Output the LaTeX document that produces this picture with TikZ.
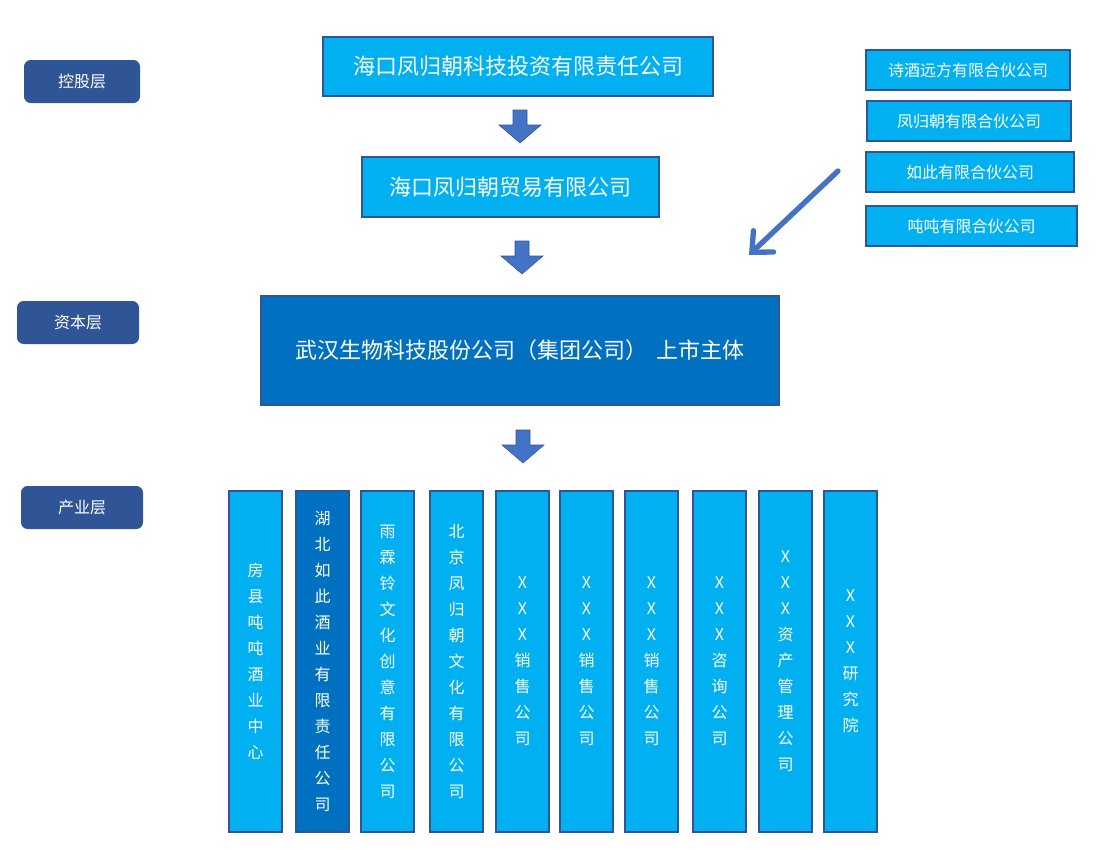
\documentclass[tikz,border=0pt]{standalone}
\usepackage{fontspec}
\setmainfont{Noto Sans CJK SC}
\usetikzlibrary{arrows.meta}
\definecolor{lb}{HTML}{00B0F0}
\definecolor{db}{HTML}{0070C0}
\definecolor{bd}{HTML}{2F5597}
\definecolor{ar}{HTML}{4472C4}
\definecolor{lab}{HTML}{2F5597}
\tikzset{
 box/.style={draw=bd,line width=1pt,fill=lb,text=white,inner sep=0pt},
 layer/.style={fill=lab,rounded corners=5pt,text=white,font=\fontsize{12pt}{14pt}\selectfont,inner sep=0pt},
 vbox/.style={box,font=\fontsize{12pt}{19.5pt}\selectfont,align=center},
}
\newcommand{\downarr}[3]{% x, ytop, ybottom
 \fill[ar,draw=bd,line width=0.4pt] (#1-7,#2) -- (#1+7,#2) -- (#1+7,#2+15) -- (#1+21,#2+15) -- (#1,#3) -- (#1-21,#2+15) -- (#1-7,#2+15) -- cycle;}
\begin{document}
\begin{tikzpicture}[x=0.75pt,y=-0.75pt]
\useasboundingbox (0,0) rectangle (1097,850);
\node[layer,minimum width=116*0.75pt,minimum height=43*0.75pt] (l1) at (82,81.5) {控股层};
\node[layer,minimum width=122*0.75pt,minimum height=43*0.75pt] (l2) at (78,322.5) {资本层};
\node[layer,minimum width=122*0.75pt,minimum height=43*0.75pt] (l3) at (82,507.5) {产业层};
\node[box,minimum width=390*0.75pt,minimum height=59*0.75pt,font=\fontsize{16.5pt}{18pt}\selectfont] (a) at (518,66.5) {海口凤归朝科技投资有限责任公司};
\node[box,minimum width=297*0.75pt,minimum height=60*0.75pt,font=\fontsize{16.5pt}{18pt}\selectfont] (b) at (510.5,187) {海口凤归朝贸易有限公司};
\node[box,fill=db,minimum width=518*0.75pt,minimum height=109*0.75pt,font=\fontsize{16.5pt}{18pt}\selectfont] (c) at (520,350.5) {武汉生物科技股份公司（集团公司）\ \ 上市主体};
\downarr{520}{110}{143}
\downarr{522}{241}{274}
\downarr{523}{430}{463}
\foreach \n/\x/\y/\w/\t in {r1/968/70/204/诗酒远方有限合伙公司, r2/969/121/204/凤归朝有限合伙公司, r3/970/172/208/如此有限合伙公司, r4/971.5/226/211/吨吨有限合伙公司}
 \node[box,minimum width=\w*0.75pt,minimum height=40*0.75pt,font=\fontsize{12pt}{14pt}\selectfont] (\n) at (\x,\y) {\t};
\coordinate (p1) at (838,171);
\coordinate (p2) at (749,255);
\draw[ar,line width=4pt,line cap=round,-{Straight Barb[length=12pt,width=22pt,line cap=round]}] (p1) -- (p2);
\foreach \n/\x/\f/\t in {
 v1/255.5/lb/{房\\县\\吨\\吨\\酒\\业\\中\\心},
 v2/322.5/db/{湖\\北\\如\\此\\酒\\业\\有\\限\\责\\任\\公\\司},
 v3/387.5/lb/{雨\\霖\\铃\\文\\化\\创\\意\\有\\限\\公\\司},
 v4/456.5/lb/{北\\京\\凤\\归\\朝\\文\\化\\有\\限\\公\\司},
 v5/522.5/lb/{X\\X\\X\\销\\售\\公\\司},
 v6/586.5/lb/{X\\X\\X\\销\\售\\公\\司},
 v7/651.5/lb/{X\\X\\X\\销\\售\\公\\司},
 v8/719.5/lb/{X\\X\\X\\咨\\询\\公\\司},
 v9/785.5/lb/{X\\X\\X\\资\\产\\管\\理\\公\\司},
 v10/850.5/lb/{X\\X\\X\\研\\究\\院}}
 \node[vbox,fill=\f,minimum width=53*0.75pt,minimum height=341*0.75pt] (\n) at (\x,661.5) {\t};
\end{tikzpicture}
\end{document}
